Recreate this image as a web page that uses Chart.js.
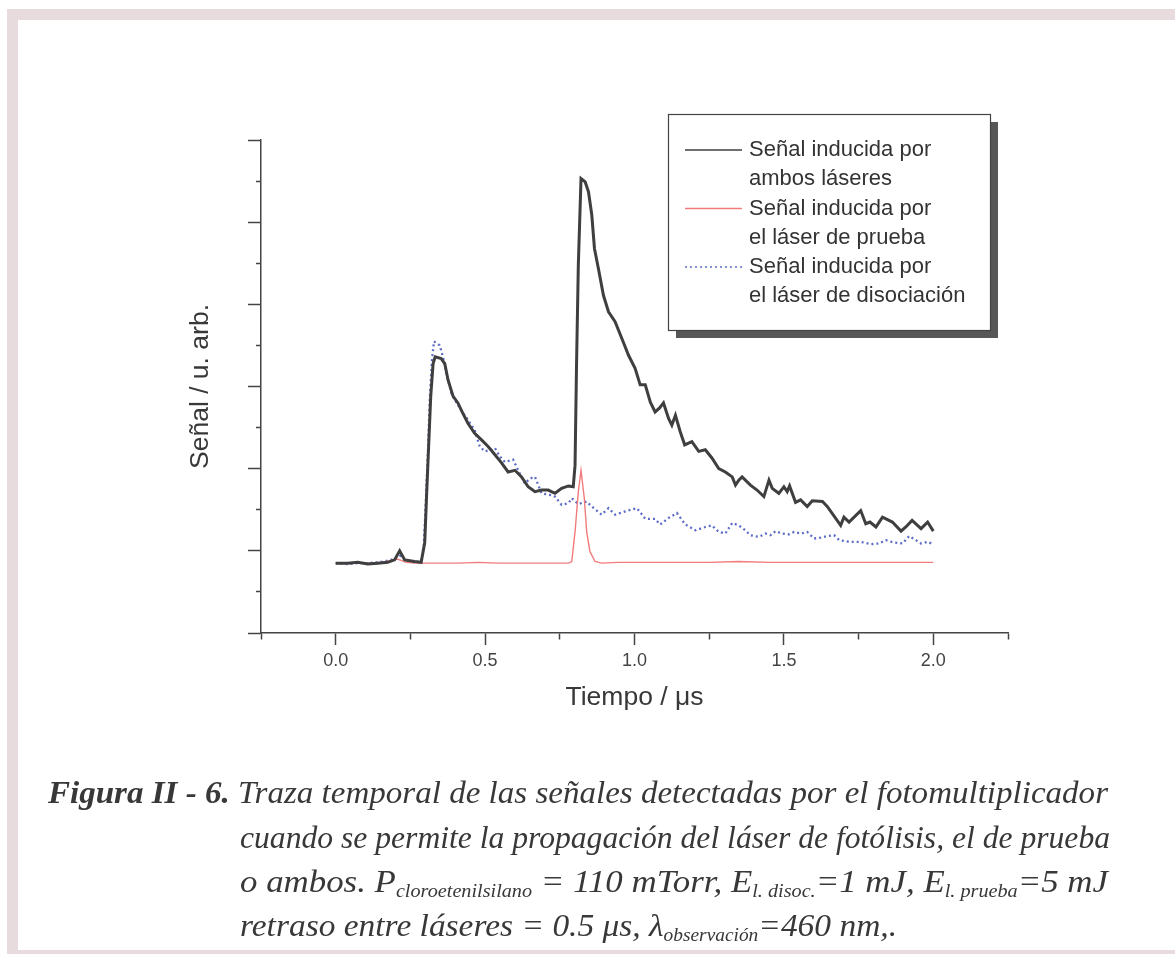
<!DOCTYPE html>
<html><head><meta charset="utf-8">
<script src="https://cdn.jsdelivr.net/npm/chart.js@4.4.1/dist/chart.umd.min.js"></script>
<style>
html,body{margin:0;padding:0;background:#fff;}
#wrap{position:relative;width:1175px;height:954px;overflow:hidden;background:#fff;}
canvas{position:absolute;left:0;top:0;}
.band{position:absolute;background:#e7dbde;}
.cap{position:absolute;white-space:nowrap;font-family:'Liberation Serif','Times New Roman',serif;font-style:italic;font-size:32px;line-height:32px;color:#383838;transform-origin:0 0;}
.cap b{font-weight:bold;}
.cap sub{font-size:58%;vertical-align:-0.25em;line-height:0;}
</style></head>
<body><div id="wrap">
<div class="band" style="left:7px;top:9px;width:1168px;height:11px"></div>
<div class="band" style="left:7px;top:9px;width:11px;height:945px"></div>
<div class="band" style="left:7px;top:950px;width:1168px;height:4px"></div>
<canvas id="c" width="1175" height="954"></canvas>
<div class="cap" data-x="48" data-w="1060" style="top:776px"><b>Figura II - 6.</b> Traza temporal de las señales detectadas por el fotomultiplicador</div>
<div class="cap" data-x="240" data-w="870" style="top:821px">cuando se permite la propagación del láser de fotólisis, el de prueba</div>
<div class="cap" data-x="240" data-w="868" style="top:865px">o ambos. P<sub>cloroetenilsilano</sub> = 110 mTorr, E<sub>l. disoc.</sub>=1 mJ, E<sub>l. prueba</sub>=5 mJ</div>
<div class="cap" data-x="240" data-w="657" style="top:909px">retraso entre láseres = 0.5 μs, λ<sub>observación</sub>=460 nm,.</div>
</div>
<script>
// ---- data (time in µs, signal in arbitrary units) ----
const tAmbos=[0.000,0.040,0.074,0.107,0.141,0.174,0.197,0.214,0.231,0.248,0.264,0.286,0.298,0.304,0.311,0.318,0.326,0.333,0.353,0.365,0.376,0.393,0.409,0.426,0.443,0.465,0.488,0.510,0.533,0.555,0.577,0.600,0.622,0.644,0.667,0.689,0.711,0.734,0.756,0.779,0.795,0.801,0.806,0.812,0.821,0.835,0.846,0.857,0.866,0.879,0.896,0.913,0.935,0.957,0.980,1.002,1.019,1.036,1.053,1.069,1.084,1.097,1.114,1.125,1.137,1.153,1.168,1.192,1.215,1.237,1.259,1.282,1.304,1.327,1.338,1.349,1.360,1.388,1.410,1.433,1.450,1.461,1.483,1.500,1.511,1.519,1.539,1.556,1.578,1.595,1.629,1.645,1.690,1.701,1.718,1.757,1.774,1.788,1.808,1.830,1.863,1.892,1.908,1.929,1.959,1.981,2.000];
const sAmbos=[0.85,0.85,0.86,0.84,0.85,0.86,0.89,1.00,0.89,0.88,0.87,0.86,1.10,1.66,2.27,2.88,3.28,3.36,3.34,3.28,3.08,2.88,2.80,2.67,2.55,2.43,2.35,2.27,2.17,2.07,1.96,1.98,1.90,1.78,1.72,1.74,1.74,1.70,1.76,1.79,1.78,2.04,3.26,4.48,5.53,5.49,5.37,5.09,4.68,4.44,4.11,3.91,3.79,3.59,3.38,3.22,3.02,3.02,2.81,2.69,2.74,2.80,2.61,2.53,2.65,2.45,2.29,2.33,2.21,2.23,2.13,2.00,1.96,1.90,1.80,1.86,1.90,1.80,1.74,1.66,1.86,1.76,1.70,1.78,1.72,1.79,1.59,1.62,1.54,1.61,1.60,1.54,1.31,1.41,1.35,1.49,1.33,1.35,1.29,1.41,1.35,1.24,1.29,1.37,1.27,1.35,1.24];

const tPrueba=[0.000,0.074,0.141,0.181,0.201,0.215,0.235,0.275,0.342,0.409,0.477,0.544,0.611,0.678,0.745,0.779,0.790,0.801,0.812,0.821,0.832,0.840,0.851,0.868,0.890,0.946,1.047,1.148,1.248,1.349,1.450,1.550,1.651,1.752,1.852,1.919,2.000];
const sPrueba=[0.85,0.85,0.85,0.88,0.90,0.89,0.86,0.85,0.85,0.85,0.86,0.85,0.85,0.85,0.85,0.85,0.87,1.23,1.72,1.98,1.64,1.23,0.99,0.87,0.85,0.86,0.86,0.86,0.86,0.87,0.86,0.86,0.86,0.86,0.86,0.86,0.86];

const tDisoc=[0.000,0.040,0.074,0.107,0.141,0.174,0.195,0.215,0.235,0.258,0.285,0.295,0.302,0.309,0.315,0.322,0.329,0.348,0.359,0.372,0.387,0.398,0.420,0.443,0.465,0.482,0.499,0.521,0.533,0.549,0.566,0.594,0.616,0.633,0.650,0.667,0.689,0.717,0.734,0.756,0.779,0.790,0.812,0.840,0.857,0.890,0.913,0.935,0.969,1.008,1.036,1.069,1.086,1.114,1.142,1.170,1.204,1.237,1.259,1.282,1.304,1.327,1.349,1.371,1.388,1.416,1.439,1.455,1.472,1.494,1.517,1.534,1.556,1.578,1.601,1.623,1.645,1.668,1.685,1.718,1.757,1.791,1.819,1.841,1.869,1.897,1.919,1.942,1.959,1.981,2.000];
const sDisoc=[0.85,0.84,0.85,0.85,0.86,0.88,0.90,0.94,0.88,0.86,0.86,1.07,1.62,2.23,2.84,3.32,3.55,3.50,3.36,3.14,2.92,2.84,2.71,2.59,2.47,2.27,2.21,2.23,2.25,2.15,2.08,2.11,1.94,1.82,1.88,1.90,1.70,1.68,1.66,1.56,1.58,1.64,1.57,1.60,1.54,1.44,1.52,1.44,1.48,1.52,1.39,1.39,1.32,1.40,1.46,1.32,1.25,1.29,1.31,1.23,1.21,1.34,1.31,1.25,1.19,1.17,1.21,1.19,1.24,1.21,1.20,1.23,1.21,1.23,1.15,1.16,1.18,1.19,1.13,1.11,1.11,1.08,1.09,1.13,1.10,1.09,1.18,1.13,1.09,1.11,1.08];

const legendLabels=[['Señal inducida por','ambos láseres'],['Señal inducida por','el láser de prueba'],['Señal inducida por','el láser de disociación']];
const xTickValues=[0,0.5,1,1.5,2];
const xTickLabels=['0.0','0.5','1.0','1.5','2.0'];

function pts(t,s){return t.map((x,i)=>({x:x,y:s[i]}));}

const SANS='"Liberation Sans", Arial, sans-serif';

const boxLegend={id:'boxLegend',afterDraw(chart){
  const ctx=chart.ctx; ctx.save();
  const bx=668,by=114,bw=322,bh=216;
  ctx.fillStyle='#575757'; ctx.fillRect(bx+8,by+8,bw,bh);
  ctx.fillStyle='#fff'; ctx.fillRect(bx,by,bw,bh);
  ctx.strokeStyle='#444'; ctx.lineWidth=1.2; ctx.strokeRect(bx+0.5,by+0.5,bw,bh);
  chart.data.datasets.forEach((ds,i)=>{
    const y0=150+i*58.5;
    ctx.beginPath(); ctx.strokeStyle=ds.borderColor; ctx.lineWidth=Math.min(ds.borderWidth,1.6);
    ctx.setLineDash(ds.borderDash||[]);
    ctx.moveTo(685,y0); ctx.lineTo(742,y0); ctx.stroke(); ctx.setLineDash([]);
    ctx.fillStyle='#333'; ctx.font='22px '+SANS; ctx.textBaseline='middle'; ctx.textAlign='left';
    legendLabels[i].forEach((ln,j)=>ctx.fillText(ln,749,y0+j*29));
  });
  ctx.restore();
}};

function isMajorX(v){return Math.abs(v*2-Math.round(v*2))<1e-6;}
function isMajorY(v){return Math.abs(v-Math.round(v))<1e-6;}

new Chart(document.getElementById('c'),{
  type:'line',
  data:{datasets:[
    {label:legendLabels[0].join(' '),data:pts(tAmbos,sAmbos),borderColor:'#3f3f3f',borderWidth:3,fill:false},
    {label:legendLabels[1].join(' '),data:pts(tPrueba,sPrueba),borderColor:'#f27b7b',borderWidth:1.4,fill:false},
    {label:legendLabels[2].join(' '),data:pts(tDisoc,sDisoc),borderColor:'#5b6cc6',borderWidth:2.3,borderDash:[2,3],fill:false}
  ]},
  options:{
    responsive:false,animation:false,devicePixelRatio:1,
    layout:{padding:{left:181,top:140,right:167,bottom:236}},
    plugins:{legend:{display:false},tooltip:{enabled:false}},
    elements:{point:{radius:0},line:{tension:0}},
    scales:{
      x:{type:'linear',min:-0.25,max:2.25,
        afterFit(s){s.height=85;},
        border:{display:true,color:'#444',width:1.5},
        grid:{drawOnChartArea:false,drawTicks:true,tickLength:12,tickColor:'#444',tickWidth:1.5,
          tickBorderDash:(c)=>isMajorX(c.tick.value)?[]:[6,100]},
        ticks:{stepSize:0.25,autoSkip:false,maxRotation:0,padding:5,color:'#444',font:{family:SANS,size:18},
          callback:(v)=>{const k=xTickValues.findIndex(t=>Math.abs(t-v)<1e-6);return k>=0?xTickLabels[k]:'';}},
        title:{display:true,text:'Tiempo / μs',color:'#383838',font:{family:SANS,size:26.5}}
      },
      y:{type:'linear',min:0,max:6,
        afterFit(s){s.width=80;},
        border:{display:true,color:'#444',width:1.5},
        grid:{drawOnChartArea:false,drawTicks:true,tickLength:13,tickColor:'#444',tickWidth:1.5,
          tickBorderDash:(c)=>isMajorY(c.tick.value)?[]:[0,8,5,100]},
        ticks:{stepSize:0.5,autoSkip:false,padding:0,callback:()=>''},
        title:{display:true,text:'Señal / u. arb.',color:'#383838',font:{family:SANS,size:26.5}}
      }
    }
  },
  plugins:[boxLegend]
});

function fitCaps(){
  document.querySelectorAll('.cap').forEach(el=>{
    el.style.transform='none';
    el.style.left=el.dataset.x+'px';
    const w=el.getBoundingClientRect().width;
    el.style.transform='scaleX('+(parseFloat(el.dataset.w)/w)+')';
  });
}
fitCaps();
if(document.fonts&&document.fonts.ready)document.fonts.ready.then(fitCaps);
</script>
</body></html>
